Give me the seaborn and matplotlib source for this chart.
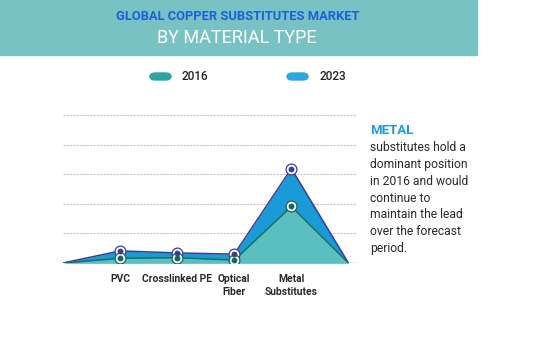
import matplotlib.pyplot as plt
import seaborn as sns
import pandas as pd
from matplotlib.patches import Rectangle, FancyBboxPatch

# data (one grid step = 1 unit)
categories = ["PVC", "Crosslinked PE", "Optical\nFiber", "Metal\nSubstitutes"]
values_2016 = [0.16, 0.18, 0.10, 1.91]
values_2023 = [0.41, 0.34, 0.30, 3.19]

# area shape closes to zero on both sides
pos = list(range(len(categories) + 2))
df = pd.DataFrame({
    "pos": pos,
    "2016": [0] + values_2016 + [0],
    "2023": [0] + values_2023 + [0],
})

sns.set_style("white")
plt.rcParams["font.family"] = ["Roboto", "DejaVu Sans"]

fig = plt.figure(figsize=(5.41, 3.58), dpi=100)
W, H = 541, 358

# header banner
fig.patches.append(Rectangle((0, 1 - 55 / H), 477 / W, 55 / H, transform=fig.transFigure,
                             color="#79c2c4", zorder=0))
fig.text(238 / W, 1 - 17 / H, "GLOBAL COPPER SUBSTITUTES MARKET", color="#1b5fd9",
         fontsize=9.3, fontweight="bold", ha="center", va="center")
fig.text(237 / W, 1 - 38 / H, "BY MATERIAL TYPE", color="white",
         fontsize=13, ha="center", va="center")

# legend
for x0, col, lab in [(150, "#2fa3a0", "2016"), (287, "#2ca8e0", "2023")]:
    fig.patches.append(FancyBboxPatch((x0 / W, 1 - 80 / H), 21 / W, 7 / H,
                                      boxstyle="round,pad=0,rounding_size=0.01",
                                      transform=fig.transFigure, color=col))
    fig.text((x0 + 32) / W, 1 - 76.5 / H, lab, fontsize=8.5, fontweight="medium",
             color="#222222", ha="left", va="center")

ax = fig.add_axes([63 / W, (H - 263) / H, (357 - 63) / W, (263 - 113) / H])

ax.fill_between(df["pos"], df["2023"], color="#1a9bd7", zorder=2, linewidth=0)
ax.fill_between(df["pos"], df["2016"], color="#5bbfbf", zorder=3, linewidth=0)
sns.lineplot(data=df, x="pos", y="2023", ax=ax, color="#3a3d98", linewidth=1.1, zorder=4)
sns.lineplot(data=df, x="pos", y="2016", ax=ax, color="#1b7068", linewidth=1.1, zorder=5)

mid = df.iloc[1:-1]
for col, dark in [("2023", "#3a3d98"), ("2016", "#15665e")]:
    ax.plot(mid["pos"], mid[col], "o", ms=7.8, mfc="white", mec=dark, mew=0.9, zorder=6, ls="none")
    ax.plot(mid["pos"], mid[col], "o", ms=4.2, mfc=dark, mec=dark, mew=0, zorder=7, ls="none")

ax.axhline(0, color="#9a9a9a", lw=1.0, zorder=1)
for g in range(1, 6):
    ax.axhline(g, color="#c4c4c4", lw=0.8, ls=(0, (2, 1)), zorder=1)

ax.set_xlim(0, 5.15)
ax.set_ylim(0, 5.07)
ax.set_xticks(pos[1:-1])
ax.set_xticklabels(categories, fontsize=7.4, fontweight="bold", color="#2a2a2a",
                   linespacing=1.3, va="top")
ax.tick_params(axis="x", length=0, pad=8)
ax.set_yticks([])
ax.set_xlabel("")
ax.set_ylabel("")
for s in ax.spines.values():
    s.set_visible(False)
ax.patch.set_alpha(0)

# side note
fig.text(370 / W, 1 - 131 / H, "METAL", color="#1e9be0", fontsize=9.5,
         fontweight="bold", ha="left", va="center")
fig.text(370 / W, 1 - 141.5 / H,
         "substitutes hold a\ndominant position\nin 2016 and would\ncontinue to\n"
         "maintain the lead\nover the forecast\nperiod.",
         color="#2a2a2a", fontsize=8.7, ha="left", va="top", linespacing=1.37)

fig.savefig("out.png", dpi=100)
